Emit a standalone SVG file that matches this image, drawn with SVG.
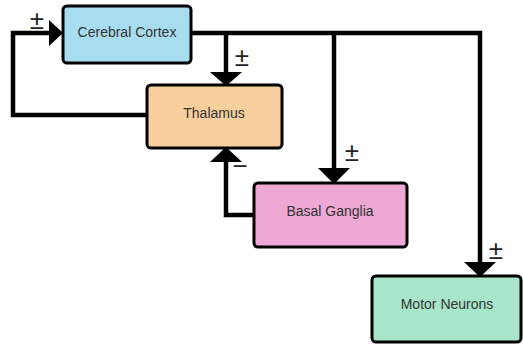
<svg xmlns="http://www.w3.org/2000/svg" width="523" height="344" viewBox="0 0 523 344">
<defs>
<style>
.box{stroke:#000;stroke-width:3}
.lbl{font-family:"Liberation Sans",Arial,sans-serif;font-size:14px;fill:#333;text-anchor:middle;dominant-baseline:central}
.sign{font-family:"Liberation Sans",Arial,sans-serif;font-size:26px;fill:#222;text-anchor:middle;dominant-baseline:central}
.wire{fill:none;stroke:#000;stroke-width:4.5;stroke-linejoin:miter}
.head{fill:#000}
</style>
</defs>
<rect width="523" height="344" fill="#fff"/>
<g id="connectors">
<path class="wire" d="M191 33 H480 V264"/>
<path class="wire" d="M226 33 V74"/>
<path class="wire" d="M334 33 V170"/>
<path class="wire" d="M147 115 H13 V33 H52"/>
<path class="wire" d="M254 215 H226 V160"/>
<polygon class="head" points="210,72 242,72 226,86"/>
<polygon class="head" points="318,168 350,168 334,184"/>
<polygon class="head" points="464,262 496,262 480,277"/>
<polygon class="head" points="49,20 49,46 63,33"/>
<polygon class="head" points="210,162 242,162 226,147"/>
<text class="sign" x="37" y="20">±</text>
<text class="sign" x="242" y="57">±</text>
<text class="sign" x="352" y="152">±</text>
<text class="sign" x="496" y="250">±</text>
<text class="sign" x="240" y="166">−</text>
</g>
<g id="cortex">
<rect class="box" x="63" y="6" width="128" height="57" rx="4" fill="#a8dcef"/>
<text class="lbl" x="127" y="32">Cerebral Cortex</text>
</g>
<g id="thalamus">
<rect class="box" x="147" y="85" width="135" height="63" rx="4" fill="#f7cf9d"/>
<text class="lbl" x="214" y="113">Thalamus</text>
</g>
<g id="basal-ganglia">
<rect class="box" x="254" y="183" width="153" height="64" rx="4" fill="#eda8d5"/>
<text class="lbl" x="330" y="211">Basal Ganglia</text>
</g>
<g id="motor-neurons">
<rect class="box" x="372" y="276" width="149" height="66" rx="4" fill="#a7e6c8"/>
<text class="lbl" x="447" y="304">Motor Neurons</text>
</g>
</svg>
